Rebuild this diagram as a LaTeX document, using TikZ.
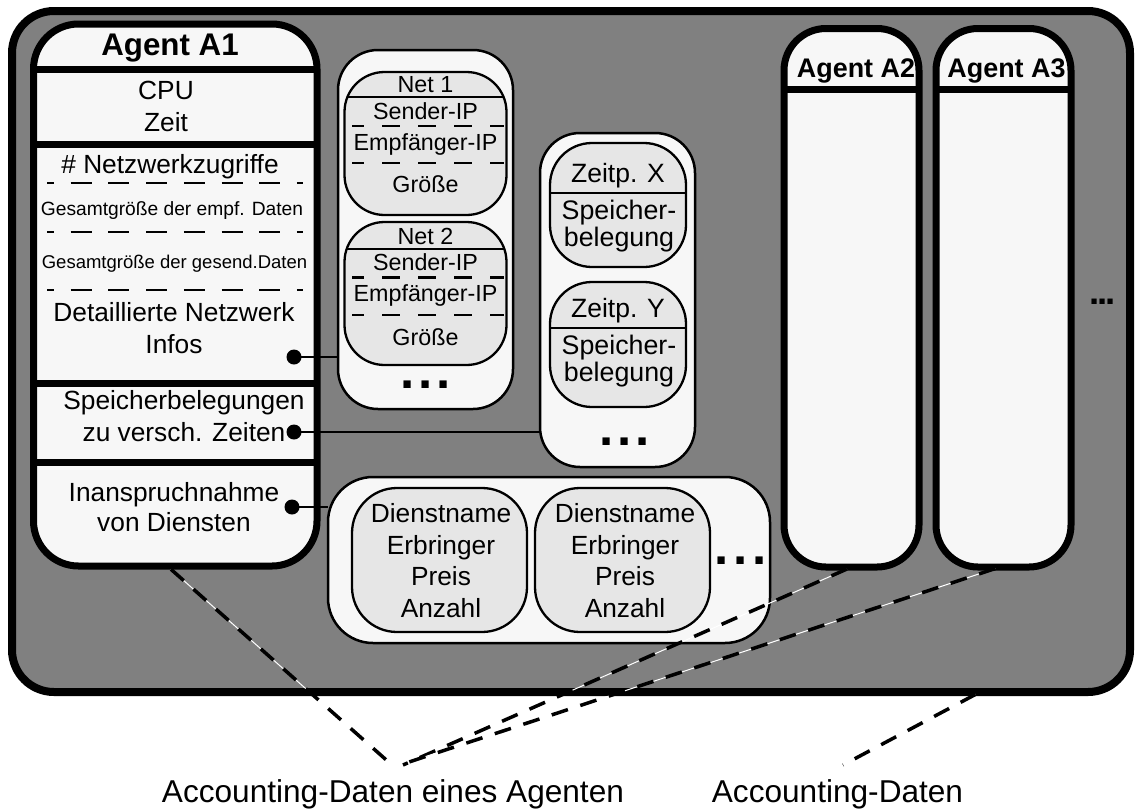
\documentclass[tikz,border=0pt]{standalone}
\usepackage{fontspec}
\setmainfont{Liberation Sans}
\definecolor{panel}{HTML}{808080}
\definecolor{paper}{HTML}{F7F7F7}
\definecolor{cell}{HTML}{E6E6E6}
\newcommand{\fsz}[2]{\fontsize{#1pt}{#2pt}\selectfont}
\begin{document}
\begin{tikzpicture}[x=1pt,y=-1pt,
  every node/.style={inner sep=0pt, outer sep=0pt},
  box/.style={draw, rectangle, inner sep=0pt, outer sep=0pt},
  agent/.style={box, fill=paper, line width=7pt},
  holder/.style={box, fill=paper, line width=2.5pt, rounded corners=40pt},
  cellbox/.style={box, fill=cell, line width=2.3pt},
  sepline/.style={line width=7pt},
  thinsep/.style={line width=2pt},
  dashA/.style={line width=2pt, dash pattern=on 21pt off 16.7pt, dash phase=14pt},
  dashN/.style={line width=2.8pt, dash pattern=on 18pt off 18pt, dash phase=6pt},
  dot/.style={circle, fill=black, minimum size=15pt},
  link/.style={line width=2.5pt},
  acc/.style={line width=3.5pt, dash pattern=on 17pt off 13pt, shorten <=5pt,
    preaction={draw, white, solid, line width=1pt, shorten <=5pt}},
  txt/.style={font=\fsz{26.3}{32}, align=center},
  nettxt/.style={font=\fsz{23.3}{26}, anchor=base},
  zeittxt/.style={font=\fsz{26.8}{27}, align=center},
  more/.style={font=\bfseries\fsz{51}{51}, anchor=base}
]
\useasboundingbox (0,0) rectangle (1135,809);

% outer panel holding all agents
\node[box, fill=panel, line width=8pt, rounded corners=42pt,
      minimum width=1118pt, minimum height=681pt] (outer) at (571,351.5) {};

% agent A1 with its sections
\node[agent, rounded corners=45pt, minimum width=283.5pt, minimum height=542pt] (a1) at (175.25,295) {};
\draw[sepline] (33.5,69.5) -- (317,69.5);
\draw[sepline] (33.5,144) -- (317,144);
\draw[sepline] (33.5,383) -- (317,383);
\draw[sepline] (33.5,462) -- (317,462);
\draw[dashA] (47,183) -- (303,183);
\draw[dashA] (47,232) -- (303,232);
\draw[dashA] (47,290) -- (303,290);

\node[font=\bfseries\fsz{31.3}{32}, anchor=base] (a1t) at (170,55) {Agent A1};
\node[txt] (cpu) at (166,106.6) {CPU\\Zeit};
\node[font=\fsz{26.3}{30}, anchor=base] (nz) at (170,173) {\# Netzwerkzugriffe};
\node[font=\fsz{19.2}{22}, anchor=base] (ge) at (172,215) {Gesamtgröße der empf. Daten};
\node[font=\fsz{18.5}{22}, anchor=base] (gs) at (174.5,268) {Gesamtgröße der gesend.Daten};
\node[txt] (dn) at (174,328.4) {Detaillierte Netzwerk\\Infos};
\node[txt] (sb) at (184,416.4) {Speicherbelegungen\\zu versch. Zeiten};
\node[txt, font=\fsz{26.3}{30}] (id) at (174,507.4) {Inanspruchnahme\\von Diensten};

% agents A2 and A3
\node[agent, rounded corners=42pt, minimum width=135pt, minimum height=538.5pt] (a2) at (851.5,297.75) {};
\node[agent, rounded corners=42pt, minimum width=135pt, minimum height=538.5pt] (a3) at (1003.5,297.75) {};
\draw[sepline] (784,89.5) -- (919,89.5);
\draw[sepline] (936,89.5) -- (1071,89.5);
\node[font=\bfseries\fsz{26.9}{27}, anchor=base] (a2t) at (856,77) {Agent A2};
\node[font=\bfseries\fsz{26.9}{27}, anchor=base] (a3t) at (1006.5,77) {Agent A3};
\node[font=\bfseries\fsz{36.5}{36.5}, anchor=base] (amore) at (1102.5,304.5) {.\kern-1.8pt.\kern-1.8pt.};

% network details
\node[holder, minimum width=175pt, minimum height=359pt] (netc) at (425.5,229.5) {};
\node[cellbox, rounded corners=40pt, minimum width=162pt, minimum height=143pt] (net1) at (425.5,143.5) {};
\node[cellbox, rounded corners=40pt, minimum width=162pt, minimum height=143pt] (net2) at (425.5,293.5) {};
\begin{scope}
  \clip[rounded corners=40pt] (net1.north west) rectangle (net1.south east);
  \draw[thinsep] (340,97) -- (510,97);
  \draw[dashN] (352,126) -- (504,126);
  \draw[dashN] (352,163) -- (504,163);
\end{scope}
\begin{scope}
  \clip[rounded corners=40pt] (net2.north west) rectangle (net2.south east);
  \draw[thinsep] (340,248.5) -- (510,248.5);
  \draw[dashN] (352,277.5) -- (504,277.5);
  \draw[dashN] (352,315) -- (504,315);
\end{scope}
\node[nettxt] (n1a) at (425.5,92.3) {Net 1};
\node[nettxt] (n1b) at (425.5,119) {Sender-IP};
\node[nettxt] (n1c) at (425.5,150.7) {Empfänger-IP};
\node[nettxt] (n1d) at (425.5,192.7) {Größe};
\node[nettxt] (n2a) at (425.5,244) {Net 2};
\node[nettxt] (n2b) at (425.5,270) {Sender-IP};
\node[nettxt] (n2c) at (425.5,301.7) {Empfänger-IP};
\node[nettxt] (n2d) at (425.5,345) {Größe};
\node[more] (nmore) at (425.5,388.5) {.\kern3.8pt.\kern3.8pt.};

% memory snapshots
\node[holder, minimum width=155pt, minimum height=334pt] (zc) at (617.5,300) {};
\node[cellbox, rounded corners=42pt, minimum width=136pt, minimum height=124pt] (zx) at (618,205) {};
\node[cellbox, rounded corners=42pt, minimum width=136pt, minimum height=125pt] (zy) at (618,344.5) {};
\begin{scope}
  \clip[rounded corners=42pt] (zx.north west) rectangle (zx.south east);
  \draw[thinsep] (545,193) -- (690,193);
\end{scope}
\begin{scope}
  \clip[rounded corners=42pt] (zy.north west) rectangle (zy.south east);
  \draw[thinsep] (545,328) -- (690,328);
\end{scope}
\node[font=\fsz{26.5}{27}, anchor=base] (zxa) at (618,182) {Zeitp. X};
\node[zeittxt] (zxb) at (619,226.5) {Speicher-\\belegung};
\node[font=\fsz{26.5}{27}, anchor=base] (zya) at (618,317) {Zeitp. Y};
\node[zeittxt] (zyb) at (619,361.5) {Speicher-\\belegung};
\node[more] (zmore) at (625,445.5) {.\kern3.8pt.\kern3.8pt.};

% used services
\node[holder, rounded corners=45pt, minimum width=442pt, minimum height=166pt] (dc) at (549,560) {};
\node[cellbox, rounded corners=45pt, minimum width=175pt, minimum height=144pt] (s1) at (439.5,560) {};
\node[cellbox, rounded corners=45pt, minimum width=175pt, minimum height=144pt] (s2) at (622.5,560) {};
\node[txt, font=\fsz{26.3}{31.5}] (s1t) at (441,560.7) {Dienstname\\Erbringer\\Preis\\Anzahl};
\node[txt, font=\fsz{26.3}{31.5}] (s2t) at (625,560.7) {Dienstname\\Erbringer\\Preis\\Anzahl};
\node[more] (dmore) at (741,564.5) {.\kern4.8pt.\kern4.8pt.};

% references from A1 sections to their details
\node[dot] (d1) at (294,357) {};
\node[dot] (d2) at (294,432) {};
\node[dot] (d3) at (292,507) {};
\draw[link] (d1.center) -- (d1 -| netc.west);
\draw[link] (d2.center) -- (d2 -| zc.west);
\draw[link] (d3.center) -- (d3 -| dc.west);

% captions and their pointers
\node[font=\fsz{31.6}{33}, anchor=base] (lab1) at (393,802) {Accounting-Daten eines Agenten};
\node[font=\fsz{31.6}{33}, anchor=base] (lab2) at (837.5,802) {Accounting-Daten};
\coordinate (e1) at (392,765);
\coordinate (e2) at (403,765);
\coordinate (e3) at (409,762);
\coordinate (e4) at (843,765);
\draw[acc] ([xshift=-8pt]a1.south) -- (e1);
\draw[acc] (a2.south) -- (e2);
\draw[acc] ([xshift=-3.5pt]a3.south) -- (e3);
\draw[acc] ([xshift=409pt]outer.south) -- (e4);
\end{tikzpicture}
\end{document}
